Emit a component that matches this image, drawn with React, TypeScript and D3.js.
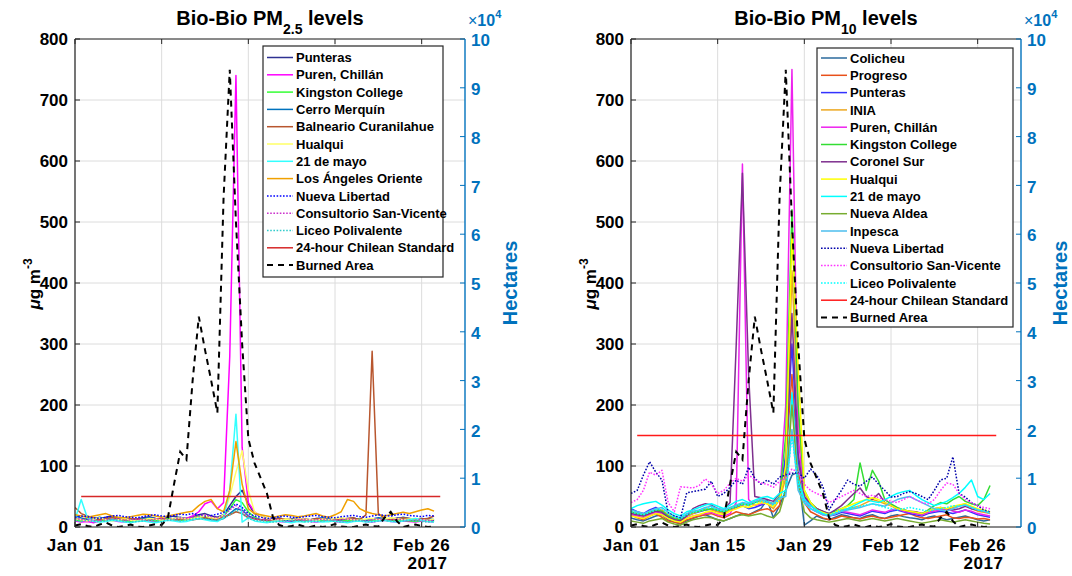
import React from "react";
import * as d3 from "d3";

const FONT = '"Liberation Sans", Arial, Helvetica, sans-serif';
const AXIS_BLUE = "#0072BD";

// daily samples Jan 01 .. Feb 28, 2017
const days = d3.timeDay.range(new Date(2017, 0, 1), new Date(2017, 2, 1));
const xDomain = [new Date(2017, 0, 1), new Date(2017, 2, 5)];
const xTickDates = [
  new Date(2017, 0, 1),
  new Date(2017, 0, 15),
  new Date(2017, 0, 29),
  new Date(2017, 1, 12),
  new Date(2017, 1, 26),
];
const xTickLabels = ["Jan 01", "Jan 15", "Jan 29", "Feb 12", "Feb 26"];
const pmTicks = [0, 100, 200, 300, 400, 500, 600, 700, 800];
const haTicks = [0, 1, 2, 3, 4, 5, 6, 7, 8, 9, 10]; // x 10^4 hectares
const standardSpan = [new Date(2017, 0, 2), new Date(2017, 2, 1)];
const pm25Standard = 50;
const pm10Standard = 150;

// burned area, hectares
const burnedArea = [
  300, 600, 200, 0, 500, 900, 300, 0, 200, 500,
  100, 0, 300, 600, 400, 1900, 8800, 15400, 13800, 30000,
  43100, 36300, 30000, 23400, 67500, 93700, 62500, 37500, 18100, 13100,
  10000, 6900, 1900, 400, 0, 200, 500, 100, 0, 300,
  0, 200, 600, 100, 0, 0, 300, 500, 200, 100,
  1900, 3100, 1200, 0, 300, 500, 200, 0, 100,
];

// ---- PM2.5 (µg m-3) ----
const pm25Punteras = [
  15, 12, 14, 10, 13, 16, 18, 14, 12, 11,
  13, 15, 17, 14, 12, 16, 18, 15, 14, 17,
  20, 22, 18, 16, 20, 35, 50, 60, 38, 22,
  18, 14, 12, 10, 11, 13, 15, 12, 10, 12,
  14, 13, 11, 12, 13, 15, 12, 10, 11, 13,
  14, 12, 15, 13, 11, 12, 14, 12, 10,
];
const pm25Puren = [
  10, 8, 9, 7, 10, 12, 11, 9, 8, 10,
  12, 11, 10, 9, 11, 13, 12, 10, 14, 18,
  25, 38, 42, 30, 40, 280, 740, 130, 40, 25,
  18, 12, 10, 9, 8, 10, 12, 11, 9, 8,
  10, 11, 9, 8, 9, 10, 12, 9, 8, 10,
  11, 9, 8, 10, 9, 8, 10, 9, 8,
];
const pm25Kingston = [
  12, 10, 14, 11, 9, 12, 15, 13, 10, 9,
  11, 13, 12, 10, 12, 14, 13, 11, 12, 15,
  18, 16, 14, 13, 18, 30, 45, 40, 25, 16,
  12, 10, 9, 10, 12, 11, 10, 9, 11, 12,
  10, 9, 11, 12, 10, 12, 13, 11, 10, 12,
  11, 10, 12, 11, 10, 9, 11, 10, 9,
];
const pm25Cerro = [
  18, 15, 12, 14, 16, 13, 11, 14, 15, 12,
  10, 13, 15, 14, 12, 11, 14, 16, 13, 12,
  15, 14, 12, 11, 14, 22, 30, 28, 18, 14,
  12, 11, 13, 15, 12, 10, 11, 13, 12, 14,
  15, 13, 11, 12, 14, 13, 12, 11, 13, 15,
  14, 12, 13, 16, 14, 12, 13, 14, 12,
];
const pm25Balneario = [
  32, 22, 18, 15, 12, 14, 16, 13, 12, 14,
  13, 12, 11, 13, 14, 12, 11, 13, 14, 12,
  13, 15, 14, 12, 16, 20, 25, 22, 15, 13,
  12, 11, 12, 14, 13, 12, 11, 13, 12, 14,
  13, 12, 11, 13, 14, 15, 12, 20, 288, 22,
  14, 12, 13, 15, 14, 12, 13, 14, 18,
];
const pm25Hualqui = [
  14, 12, 10, 13, 15, 12, 10, 12, 14, 11,
  10, 12, 14, 13, 11, 12, 14, 15, 13, 14,
  16, 18, 15, 14, 20, 50, 90, 125, 60, 25,
  18, 14, 12, 11, 13, 12, 14, 13, 12, 11,
  13, 12, 14, 15, 13, 12, 11, 13, 14, 12,
  13, 15, 14, 12, 13, 14, 12, 11, 13,
];
const pm25Mayo = [
  12, 45, 15, 10, 8, 9, 11, 10, 8, 7,
  9, 10, 8, 7, 9, 11, 10, 8, 9, 12,
  14, 12, 10, 9, 15, 60, 185, 8, 15, 10,
  8, 7, 9, 10, 8, 7, 9, 8, 10, 9,
  8, 9, 10, 8, 7, 9, 10, 8, 9, 10,
  11, 9, 8, 10, 12, 14, 11, 9, 8,
];
const pm25Angeles = [
  20, 18, 16, 18, 20, 22, 18, 16, 15, 17,
  19, 21, 20, 18, 16, 18, 20, 22, 24, 26,
  35, 42, 45, 30, 25, 60, 140, 70, 30, 22,
  20, 18, 16, 18, 20, 19, 17, 18, 20, 22,
  18, 16, 20, 25, 45, 42, 30, 25, 22, 20,
  18, 20, 22, 24, 22, 25, 28, 30, 26,
];
const pm25NuevaLibertad = [
  16, 18, 17, 15, 14, 16, 18, 19, 17, 16,
  15, 17, 19, 20, 18, 17, 19, 21, 20, 22,
  20, 18, 19, 21, 24, 30, 38, 32, 22, 18,
  16, 14, 15, 17, 18, 16, 15, 17, 18, 19,
  17, 16, 15, 17, 18, 19, 17, 16, 18, 20,
  19, 18, 20, 21, 19, 18, 17, 19, 18,
];
const pm25Consultorio = [
  14, 12, 13, 11, 10, 12, 14, 13, 11, 12,
  13, 12, 11, 13, 14, 12, 13, 15, 14, 16,
  18, 20, 17, 15, 18, 28, 35, 26, 18, 14,
  12, 11, 13, 12, 10, 11, 12, 13, 11, 12,
  13, 12, 11, 12, 13, 12, 11, 10, 12, 13,
  12, 11, 13, 12, 10, 11, 12, 11, 10,
];
const pm25Liceo = [
  10, 9, 11, 8, 9, 10, 12, 11, 9, 8,
  9, 10, 11, 10, 9, 11, 12, 10, 11, 13,
  14, 13, 12, 11, 14, 20, 28, 22, 14, 11,
  10, 9, 8, 9, 10, 11, 10, 9, 8, 9,
  10, 11, 9, 8, 9, 10, 11, 9, 8, 10,
  11, 10, 9, 10, 11, 10, 9, 8, 9,
];

// ---- PM10 (µg m-3) ----
const pm10Colicheu = [
  15, 12, 10, 14, 18, 20, 12, 8, 5, 10,
  14, 18, 20, 16, 12, 10, 14, 18, 22, 20,
  25, 30, 45, 15, 35, 60, 85, 90, 3, 10,
  18, 14, 12, 16, 20, 18, 15, 14, 18, 20,
  16, 14, 18, 20, 17, 15, 14, 12, 16, 18,
  15, 12, 14, 16, 18, 15, 12, 10, 12,
];
const pm10Progreso = [
  20, 15, 12, 18, 22, 16, 10, 8, 6, 12,
  15, 18, 20, 22, 18, 15, 20, 25, 22, 20,
  24, 28, 30, 25, 35, 110, 250, 90, 40, 25,
  20, 15, 12, 14, 18, 16, 15, 13, 16, 18,
  15, 14, 16, 18, 20, 22, 18, 15, 14, 16,
  18, 20, 15, 14, 16, 15, 13, 14, 12,
];
const pm10Punteras = [
  30, 25, 22, 28, 32, 26, 18, 12, 10, 18,
  22, 25, 28, 30, 26, 24, 28, 32, 35, 30,
  32, 36, 40, 35, 45, 120, 300, 110, 50, 35,
  28, 22, 18, 20, 24, 22, 20, 18, 22, 26,
  24, 22, 26, 28, 25, 22, 20, 18, 22, 24,
  26, 24, 22, 25, 28, 24, 20, 18, 16,
];
const pm10Inia = [
  25, 20, 18, 22, 26, 28, 20, 15, 12, 18,
  22, 26, 30, 28, 25, 22, 28, 34, 38, 35,
  40, 42, 38, 30, 45, 80, 420, 180, 55, 40,
  30, 25, 20, 22, 28, 30, 32, 35, 40, 45,
  42, 38, 35, 30, 28, 25, 22, 20, 24, 28,
  30, 28, 32, 35, 38, 30, 26, 24, 22,
];
const pm10Puren = [
  20, 18, 15, 20, 24, 22, 16, 12, 10, 15,
  18, 20, 22, 24, 20, 18, 22, 40, 595, 45,
  35, 38, 40, 36, 50, 200, 750, 150, 45, 30,
  25, 20, 18, 22, 26, 24, 22, 20, 24, 28,
  26, 24, 28, 30, 26, 24, 22, 20, 24, 26,
  28, 30, 26, 24, 28, 26, 22, 20, 18,
];
const pm10Kingston = [
  25, 22, 20, 24, 28, 26, 18, 14, 12, 20,
  24, 26, 28, 30, 28, 25, 30, 34, 38, 36,
  40, 45, 42, 38, 50, 150, 520, 200, 60, 40,
  30, 25, 22, 26, 30, 35, 45, 105, 60, 93,
  75, 45, 38, 32, 28, 26, 24, 22, 28, 35,
  40, 38, 45, 50, 42, 38, 35, 45, 68,
];
const pm10Coronel = [
  22, 20, 18, 22, 26, 24, 16, 12, 10, 18,
  30, 35, 38, 36, 30, 28, 40, 300, 580, 250,
  50, 48, 45, 42, 55, 90, 350, 120, 50, 38,
  30, 26, 22, 28, 35, 45, 55, 64, 50, 45,
  55, 40, 35, 30, 28, 26, 25, 22, 26, 30,
  32, 30, 28, 30, 34, 30, 28, 26, 24,
];
const pm10Hualqui = [
  18, 16, 14, 18, 22, 20, 14, 10, 8, 14,
  18, 20, 24, 26, 22, 20, 26, 30, 34, 32,
  36, 40, 38, 34, 45, 100, 480, 264, 60, 40,
  28, 24, 20, 24, 30, 34, 38, 42, 45, 48,
  45, 40, 35, 30, 28, 26, 24, 22, 26, 30,
  32, 30, 34, 36, 38, 34, 30, 28, 24,
];
const pm10Mayo = [
  30, 35, 38, 40, 42, 36, 28, 22, 18, 25,
  28, 32, 36, 38, 34, 30, 36, 42, 45, 40,
  44, 48, 50, 46, 55, 60, 220, 80, 45, 35,
  28, 22, 18, 22, 26, 30, 35, 40, 45, 42,
  40, 45, 50, 55, 58, 60, 52, 45, 40, 35,
  38, 42, 48, 55, 65, 77, 50, 45, 55,
];
const pm10NuevaAldea = [
  10, 8, 6, 10, 12, 14, 8, 5, 3, 8,
  12, 14, 16, 15, 12, 10, 14, 18, 20, 18,
  20, 22, 18, 15, 25, 60, 200, 70, 25, 15,
  12, 10, 8, 10, 12, 14, 12, 10, 12, 14,
  12, 10, 12, 14, 12, 10, 8, 6, 8, 10,
  12, 10, 8, 10, 12, 10, 8, 6, 5,
];
const pm10Inpesca = [
  28, 25, 22, 26, 30, 32, 24, 18, 15, 22,
  26, 28, 32, 34, 30, 28, 32, 36, 40, 38,
  42, 45, 42, 38, 48, 50, 160, 60, 40, 30,
  25, 20, 18, 22, 26, 28, 30, 32, 35, 38,
  36, 34, 40, 45, 48, 50, 45, 40, 35, 30,
  28, 26, 30, 34, 36, 32, 28, 26, 22,
];
const pm10NuevaLibertad = [
  55, 60, 85, 107, 90, 77, 23, 18, 15, 56,
  58, 60, 62, 75, 50, 55, 65, 77, 70, 98,
  80, 70, 77, 70, 82, 85, 88, 89, 80, 95,
  85, 66, 28, 45, 60, 77, 70, 67, 75, 82,
  70, 60, 49, 50, 55, 58, 55, 50, 45, 60,
  77, 80, 115, 55, 49, 40, 35, 28, 25,
];
const pm10Consultorio = [
  40, 45, 60, 90, 85, 93, 40, 25, 66, 65,
  64, 68, 79, 70, 55, 60, 72, 80, 75, 85,
  78, 72, 70, 65, 75, 80, 95, 90, 70, 60,
  55, 50, 40, 45, 50, 55, 60, 55, 50, 52,
  48, 45, 42, 40, 45, 50, 45, 40, 38, 45,
  60, 72, 70, 55, 45, 40, 35, 32, 30,
];
const pm10Liceo = [
  25, 22, 20, 24, 28, 30, 22, 16, 14, 20,
  24, 26, 30, 32, 28, 26, 30, 34, 38, 36,
  40, 42, 40, 36, 45, 60, 150, 70, 40, 30,
  25, 22, 20, 24, 28, 30, 32, 34, 36, 38,
  35, 32, 30, 28, 30, 32, 30, 28, 26, 28,
  30, 32, 35, 34, 36, 32, 28, 26, 24,
];

type Series = { name: string; values: number[]; color: string; dash?: string };

const DOT = "1.6 1.6";

const pm25Series: Series[] = [
  { name: "Punteras", values: pm25Punteras, color: "#2E3192" },
  { name: "Puren, Chillán", values: pm25Puren, color: "#FF00FF" },
  { name: "Kingston College", values: pm25Kingston, color: "#33FF33" },
  { name: "Cerro Merquín", values: pm25Cerro, color: "#0072BD" },
  { name: "Balneario Curanilahue", values: pm25Balneario, color: "#B8562E" },
  { name: "Hualqui", values: pm25Hualqui, color: "#FFFF66" },
  { name: "21 de mayo", values: pm25Mayo, color: "#33FFFF" },
  { name: "Los Ángeles Oriente", values: pm25Angeles, color: "#F0A000" },
  { name: "Nueva Libertad", values: pm25NuevaLibertad, color: "#0000FF", dash: DOT },
  { name: "Consultorio San-Vicente", values: pm25Consultorio, color: "#CC33CC", dash: DOT },
  { name: "Liceo Polivalente", values: pm25Liceo, color: "#33CCCC", dash: DOT },
];

const pm10Series: Series[] = [
  { name: "Colicheu", values: pm10Colicheu, color: "#2B6A9C" },
  { name: "Progreso", values: pm10Progreso, color: "#E8501A" },
  { name: "Punteras", values: pm10Punteras, color: "#3333FF" },
  { name: "INIA", values: pm10Inia, color: "#EDA820" },
  { name: "Puren, Chillán", values: pm10Puren, color: "#EE22EE" },
  { name: "Kingston College", values: pm10Kingston, color: "#33DD33" },
  { name: "Coronel Sur", values: pm10Coronel, color: "#7E2F8E" },
  { name: "Hualqui", values: pm10Hualqui, color: "#FFFF00" },
  { name: "21 de mayo", values: pm10Mayo, color: "#00FFFF" },
  { name: "Nueva Aldea", values: pm10NuevaAldea, color: "#77AC30" },
  { name: "Inpesca", values: pm10Inpesca, color: "#4DBEEE" },
  { name: "Nueva Libertad", values: pm10NuevaLibertad, color: "#0000AA", dash: DOT },
  { name: "Consultorio San-Vicente", values: pm10Consultorio, color: "#FF33FF", dash: DOT },
  { name: "Liceo Polivalente", values: pm10Liceo, color: "#00FFFF", dash: DOT },
];

interface PanelProps {
  id: string;
  left: number;
  sub: string;
  series: Series[];
  standard: number;
  standardColor: string;
  legend: { x: number; y: number; w: number; h: number; first: number; step: number };
  hectaresX: number;
}

const Panel: React.FC<PanelProps> = ({ id, left, sub, series, standard, standardColor, legend, hectaresX }) => {
  const right = left + 390;
  const top = 39;
  const bottom = 527;
  const x = d3.scaleTime().domain(xDomain).range([left, right]);
  const y = d3.scaleLinear().domain([0, 800]).range([bottom, top]);
  const yHa = d3.scaleLinear().domain([0, 10]).range([bottom, top]);
  const line = d3
    .line<number>()
    .x((_, i) => x(days[i]))
    .y((v) => y(v));
  const haLine = d3
    .line<number>()
    .x((_, i) => x(days[i]))
    .y((v) => yHa(v / 10000));

  const entries = [
    ...series.map((s) => ({ name: s.name, color: s.color, dash: s.dash, w: 1.5 })),
    { name: "24-hour Chilean Standard", color: standardColor, dash: undefined, w: 1.5 },
    { name: "Burned Area", color: "#000", dash: "6 5", w: 2 },
  ];
  const cx = (left + right) / 2;

  return (
    <g fontFamily={FONT} fontWeight="bold">
      <defs>
        <clipPath id={id}>
          <rect x={left} y={top} width={right - left} height={bottom - top} />
        </clipPath>
      </defs>
      {/* grid */}
      {pmTicks.map((t) => (
        <line key={"gy" + t} x1={left} x2={right} y1={y(t)} y2={y(t)} stroke="#DCDCDC" strokeWidth={1} />
      ))}
      {xTickDates.map((d, i) => (
        <line key={"gx" + i} x1={x(d)} x2={x(d)} y1={top} y2={bottom} stroke="#DCDCDC" strokeWidth={1} />
      ))}

      <g clipPath={`url(#${id})`} fill="none">
        {series.map((s) => (
          <path
            key={s.name}
            d={line(s.values) || ""}
            stroke={s.color}
            strokeWidth={1.5}
            strokeDasharray={s.dash}
            strokeLinejoin="round"
          />
        ))}
        <line
          x1={x(standardSpan[0])}
          x2={x(standardSpan[1])}
          y1={y(standard)}
          y2={y(standard)}
          stroke={standardColor}
          strokeWidth={1.5}
        />
        <path d={haLine(burnedArea) || ""} stroke="#000" strokeWidth={2} strokeDasharray="6 5" />
      </g>

      {/* box */}
      <line x1={left} x2={left} y1={top} y2={bottom} stroke="#262626" strokeWidth={1.2} />
      <line x1={left} x2={right} y1={top} y2={top} stroke="#262626" strokeWidth={1.2} />
      <line x1={left} x2={right} y1={bottom} y2={bottom} stroke="#262626" strokeWidth={1.2} />
      <line x1={right} x2={right} y1={top} y2={bottom} stroke={AXIS_BLUE} strokeWidth={1.4} />

      {/* left axis */}
      {pmTicks.map((t) => (
        <g key={"ly" + t}>
          <line x1={left} x2={left + 5} y1={y(t)} y2={y(t)} stroke="#262626" />
          <text x={left - 7} y={y(t)} dy="0.36em" textAnchor="end" fontSize={17} fill="#000">
            {t}
          </text>
        </g>
      ))}
      {/* x axis */}
      {xTickDates.map((d, i) => (
        <g key={"xt" + i}>
          <line x1={x(d)} x2={x(d)} y1={bottom} y2={bottom - 5} stroke="#262626" />
          <line x1={x(d)} x2={x(d)} y1={top} y2={top + 5} stroke="#262626" />
          <text x={x(d)} y={551} textAnchor="middle" fontSize={17} letterSpacing={0.6} fill="#000">
            {xTickLabels[i]}
          </text>
        </g>
      ))}
      <text x={x(xTickDates[4]) + 26} y={569} textAnchor="end" fontSize={17} letterSpacing={0.6} fill="#000">
        2017
      </text>

      {/* right axis */}
      {haTicks.map((t) => (
        <g key={"ry" + t}>
          <line x1={right} x2={right - 5} y1={yHa(t)} y2={yHa(t)} stroke={AXIS_BLUE} />
          <text x={right + 6} y={yHa(t) + 1} dy="0.36em" fontSize={17} fill={AXIS_BLUE}>
            {t}
          </text>
        </g>
      ))}
      <text x={right + 3} y={26} fontSize={16} fill={AXIS_BLUE}>
        <tspan fontWeight="normal">×</tspan>10
        <tspan fontSize={11} dy={-8}>
          4
        </tspan>
      </text>
      <text transform={`translate(${hectaresX},283) rotate(-90)`} textAnchor="middle" fontSize={20} fill={AXIS_BLUE}>
        Hectares
      </text>

      {/* left label */}
      <text transform={`translate(${left - 35},284) rotate(-90)`} textAnchor="middle" fontSize={17} fill="#000">
        <tspan fontStyle="italic">μ</tspan>g m
        <tspan fontSize={12} dy={-8}>
          -3
        </tspan>
      </text>

      {/* title */}
      <text x={cx} y={25} textAnchor="middle" fontSize={20} fill="#000">
        Bio-Bio PM
        <tspan fontSize={14} dy={9}>
          {sub}
        </tspan>
        <tspan dy={-9}> levels</tspan>
      </text>

      {/* legend */}
      <rect x={legend.x} y={legend.y} width={legend.w} height={legend.h} fill="#fff" stroke="#262626" strokeWidth={1.2} />
      {entries.map((e, i) => {
        const ly = legend.first + i * legend.step;
        return (
          <g key={"lg" + i}>
            <line
              x1={legend.x + 4}
              x2={legend.x + 30}
              y1={ly}
              y2={ly}
              stroke={e.color}
              strokeWidth={e.w}
              strokeDasharray={e.dash}
            />
            <text x={legend.x + 33} y={ly} dy="0.36em" fontSize={13} fill="#000">
              {e.name}
            </text>
          </g>
        );
      })}
    </g>
  );
};

export default function App() {
  return (
    <svg
      width={1072}
      height={576}
      style={{ position: "absolute", left: 0, top: 0, background: "#fff" }}
    >
      <rect width={1072} height={576} fill="#fff" />
      <Panel
        id="clipL"
        left={75}
        sub="2.5"
        series={pm25Series}
        standard={pm25Standard}
        standardColor="#D62828"
        legend={{ x: 263, y: 46, w: 180, h: 231, first: 57.5, step: 17.3 }}
        hectaresX={517}
      />
      <Panel
        id="clipR"
        left={631}
        sub="10"
        series={pm10Series}
        standard={pm10Standard}
        standardColor="#FF1A1A"
        legend={{ x: 817, y: 48, w: 196, h: 279, first: 58, step: 17.3 }}
        hectaresX={1067}
      />
    </svg>
  );
}
